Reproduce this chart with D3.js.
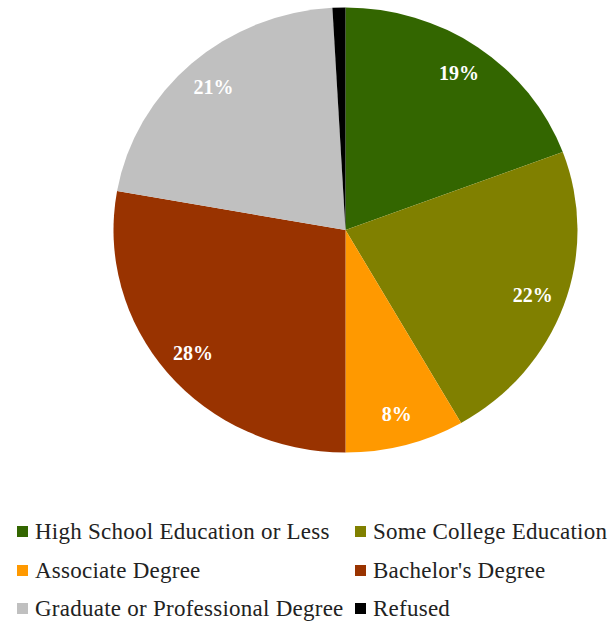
<!DOCTYPE html>
<html>
<head>
<meta charset="utf-8">
<script src="https://cdn.jsdelivr.net/npm/d3@7"></script>
<style>
  html, body { margin: 0; padding: 0; background: #fff; }
  svg { display: block; }
  .serif { font-family: "Liberation Serif", "Times New Roman", Times, "DejaVu Serif", serif; }
</style>
</head>
<body>
<svg id="chart" width="611" height="622"></svg>
<script>
const categories = [
  "High School Education or Less",
  "Some College Education",
  "Associate Degree",
  "Bachelor's Degree",
  "Graduate or Professional Degree",
  "Refused"
];
const values = [19.3, 22.4, 8.3, 27.8, 21.3, 0.9];
const labels = ["19%", "22%", "8%", "28%", "21%", ""];
const colors = ["#336600", "#808000", "#FF9900", "#993300", "#C0C0C0", "#000000"];

const svg = d3.select("#chart");
const cx = 345.5, cy = 230;
const rx = 232, ry = 222.5;
const sy = ry / rx;

const data = categories.map((c, i) => ({ cat: c, value: values[i], label: labels[i], color: colors[i] }));

const pie = d3.pie().sort(null).value(d => d.value);
const arcs = pie(data);
const arc = d3.arc().innerRadius(0).outerRadius(rx);
const labelArc = d3.arc().innerRadius(199).outerRadius(199);

const g = svg.append("g").attr("transform", `translate(${cx},${cy}) scale(1,${sy})`);
g.selectAll("path")
  .data(arcs)
  .join("path")
  .attr("d", arc)
  .attr("fill", d => d.data.color);

svg.append("g")
  .selectAll("text")
  .data(arcs.filter(d => d.data.label))
  .join("text")
  .attr("class", "serif")
  .attr("x", d => cx + labelArc.centroid(d)[0])
  .attr("y", d => cy + labelArc.centroid(d)[1] * sy)
  .attr("dy", "0.35em")
  .attr("text-anchor", "middle")
  .attr("fill", "#fff")
  .attr("font-weight", "bold")
  .attr("font-size", 20)
  .text(d => d.data.label);

// Legend
const colX = [17, 355];
const rowY = [532, 571, 609];
const legend = svg.append("g");
data.forEach((d, i) => {
  const col = i % 2, row = Math.floor(i / 2);
  const x = colX[col], y = rowY[row];
  legend.append("rect")
    .attr("x", x).attr("y", y - 6)
    .attr("width", 11).attr("height", 11)
    .attr("fill", d.color);
  legend.append("text")
    .attr("class", "serif")
    .attr("x", x + 18).attr("y", y + 7)
    .attr("font-size", 23)
    .attr("letter-spacing", 0.25)
    .attr("fill", "#222")
    .text(d.cat);
});
</script>
</body>
</html>
